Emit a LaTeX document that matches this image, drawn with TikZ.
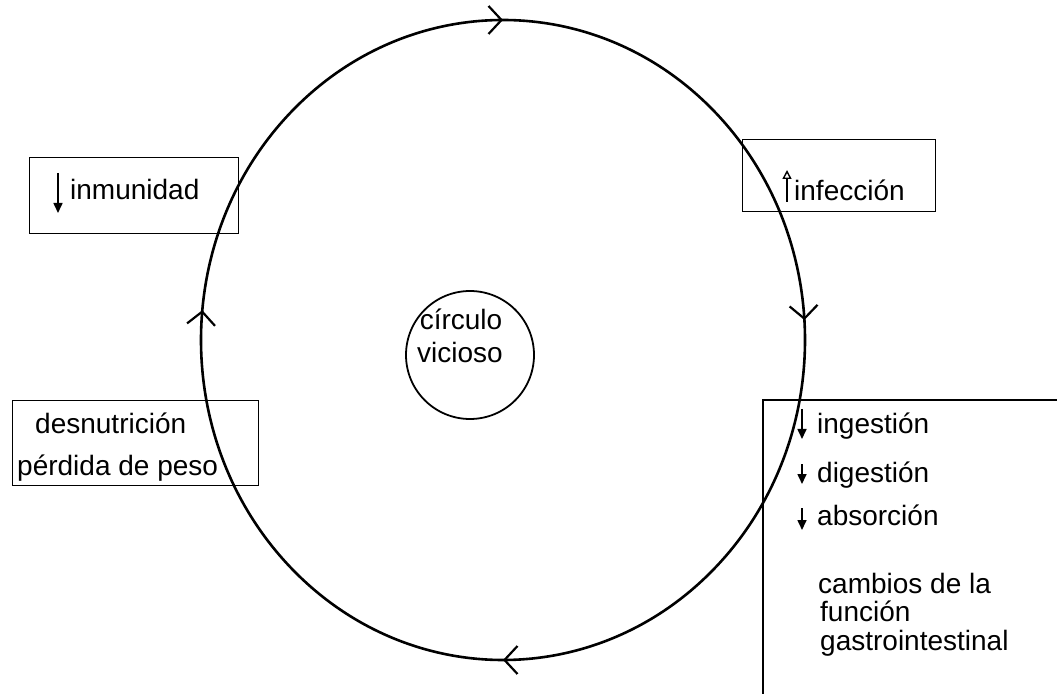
\documentclass[tikz,border=0pt]{standalone}
\usepackage{fontspec}
\setmainfont{Liberation Sans}
\usetikzlibrary{arrows.meta,decorations.markings}
\begin{document}
\begin{tikzpicture}[x=1pt,y=1pt,
  cycarc/.style={line width=2.6pt, decoration={markings, mark=at position #1 with {\arrow{Straight Barb[length=13pt,width=28pt,line width=2.2pt]}}}, postaction={decorate}},
  box/.style={draw, line width=1.4pt, inner sep=0pt, anchor=south west},
  lbl/.style={font=\fontsize{28}{30}\selectfont, inner sep=0pt, anchor=base west},
  dnarrow/.style={line width=1.6pt, -{Triangle[length=10pt,width=9pt]}},
  uparrow/.style={line width=1.6pt, -{Triangle[open,length=9pt,width=9pt,line width=1.4pt]}}
]
\useasboundingbox (0,0) rectangle (1057,694);
\fill[white] (0,0) rectangle (1057,694);

% big cycle
\coordinate (bc) at (503,354);
\draw[cycarc=0.56] ([shift={(225:302 and 320)}]bc) arc[start angle=225,end angle=135,x radius=302,y radius=320];
\draw[cycarc=0.5] ([shift={(135:302 and 320)}]bc) arc[start angle=135,end angle=45,x radius=302,y radius=320];
\draw[cycarc=0.46] ([shift={(45:302 and 320)}]bc) arc[start angle=45,end angle=-45,x radius=302,y radius=320];
\draw[cycarc=0.5] ([shift={(-45:302 and 320)}]bc) arc[start angle=-45,end angle=-135,x radius=302,y radius=320];

% small circle
\node[draw, circle, line width=1.8pt, minimum size=128pt, inner sep=0pt] (sc) at (470,339) {};
\node[lbl, anchor=base] (tcirc) at (461,364) {círculo};
\node[lbl, anchor=base] (tvic) at (460,331) {vicioso};

% boxes
\node[box, minimum width=209pt, minimum height=76pt] (binm) at (29,460) {};
\node[box, minimum width=193pt, minimum height=72pt] (binf) at (742,482) {};
\node[box, minimum width=246pt, minimum height=85pt] (bdes) at (12,208) {};
\coordinate (rbtr) at (1057,294);
\coordinate (rbtl) at (763,294);
\coordinate (rbbl) at (763,0);
\draw[line width=1.4pt] (rbtr) -- (rbtl) -- (rbbl);

% texts
\node[lbl] (tinm) at (70,494) {inmunidad};
\node[lbl] (tinf) at (794,493) {infección};
\node[lbl] (tdes) at (35,261) {desnutrición};
\node[lbl] (tper) at (17,219) {pérdida de peso};
\node[lbl] (ting) at (817,261) {ingestión};
\node[lbl] (tdig) at (817,212) {digestión};
\node[lbl] (tabs) at (817,169) {absorción};
\node[lbl] (tcam) at (818,101) {cambios de la};
\node[lbl] (tfun) at (820,73) {función};
\node[lbl] (tgas) at (820,44) {gastrointestinal};

% small arrows
\coordinate (a1s) at (58,521); \coordinate (a1e) at (58,481);
\draw[dnarrow] (a1s) -- (a1e);
\coordinate (a2s) at (787,492); \coordinate (a2e) at (787,524);
\draw[uparrow] (a2s) -- (a2e);
\coordinate (a3s) at (802,285); \coordinate (a3e) at (802,255);
\draw[dnarrow] (a3s) -- (a3e);
\coordinate (a4s) at (802,230); \coordinate (a4e) at (802,210);
\draw[dnarrow] (a4s) -- (a4e);
\coordinate (a5s) at (802,186); \coordinate (a5e) at (802,164);
\draw[dnarrow] (a5s) -- (a5e);
\end{tikzpicture}
\end{document}
